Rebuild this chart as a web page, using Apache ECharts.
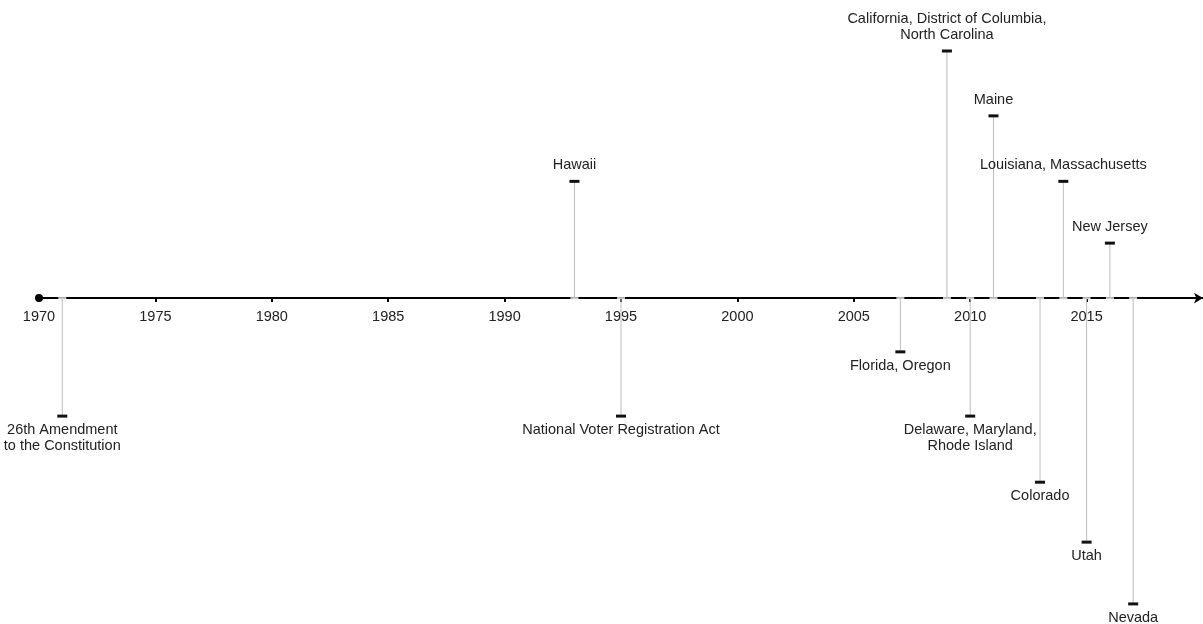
<!DOCTYPE html>
<html>
<head>
<meta charset="utf-8">
<script src="https://cdn.jsdelivr.net/npm/echarts@6/dist/echarts.min.js"></script>
<style>
  html, body { margin: 0; padding: 0; background: #fff; }
  #timeline { width: 1203px; height: 624px; }
</style>
</head>
<body>
<div id="timeline"></div>
<script>
// event years, stem heights (+ above the axis, - below) and labels
var years  = [1971, 1993, 1995, 2007, 2009, 2010, 2011, 2013, 2014, 2015, 2016, 2017];
var levels = [-1.91, 1.89, -1.91, -0.87, 4, -1.91, 2.95, -2.98, 1.89, -3.95, 0.89, -4.95];
var labels = [
    '26th Amendment\nto the Constitution',
    'Hawaii',
    'National Voter Registration Act',
    'Florida, Oregon',
    'California, District of Columbia,\nNorth Carolina',
    'Delaware, Maryland,\nRhode Island',
    'Maine',
    'Colorado',
    'Louisiana, Massachusetts',
    'Utah',
    'New Jersey',
    'Nevada'
];

var data = [];
for (var i = 0; i < years.length; i++) {
    data.push([years[i], levels[i], labels[i]]);
}

var FONT = '"Liberation Sans", Arial, Helvetica, sans-serif';
var GRID_TOP = 51, GRID_BOTTOM = 17;
var Y_MIN = -5, Y_MAX = 4;
// push the x axis up from the grid bottom to where y = 0 sits
var zeroOffset = -(624 - GRID_TOP - GRID_BOTTOM) * (0 - Y_MIN) / (Y_MAX - Y_MIN);

function renderStem(params, api) {
    var base = api.coord([api.value(0), 0]);
    var end = api.coord([api.value(0), api.value(1)]);
    var up = api.value(1) > 0;
    return {
        type: 'group',
        children: [
            {
                type: 'line',
                shape: { x1: base[0], y1: base[1], x2: end[0], y2: end[1] },
                style: { stroke: '#bdbdbd', lineWidth: 1 }
            },
            {
                type: 'rect',
                shape: { x: base[0] - 4, y: base[1] - 1, width: 8, height: 2 },
                style: { fill: '#c8c8c8' }
            },
            {
                type: 'rect',
                shape: { x: end[0] - 5, y: end[1] - 1.5, width: 10, height: 3 },
                style: { fill: '#111' }
            },
            {
                type: 'text',
                x: end[0],
                y: up ? end[1] - 8 : end[1] + 6,
                style: {
                    text: api.value(2),
                    fill: '#222',
                    font: '14.5px ' + FONT,
                    lineHeight: 16,
                    align: 'center',
                    verticalAlign: up ? 'bottom' : 'top'
                }
            }
        ]
    };
}

var chart = echarts.init(document.getElementById('timeline'));
chart.setOption({
    animation: false,
    backgroundColor: '#fff',
    grid: { left: 39, right: 0, top: GRID_TOP, bottom: GRID_BOTTOM, outerBoundsMode: 'none', containLabel: false },
    xAxis: {
        type: 'value',
        min: 1970,
        max: 2020,
        interval: 5,
        position: 'bottom',
        offset: zeroOffset,
        splitLine: { show: false },
        axisLine: {
            onZero: false,
            symbol: ['circle', 'arrow'],
            symbolSize: [8, 9],
            lineStyle: { color: '#000', width: 2 }
        },
        axisTick: { show: true, length: 4, lineStyle: { color: '#000', width: 2 } },
        axisLabel: {
            showMaxLabel: false,
            margin: 11,
            color: '#222',
            fontSize: 14.5,
            fontFamily: FONT,
            formatter: function (v) { return String(v); }
        }
    },
    yAxis: {
        type: 'value',
        min: Y_MIN,
        max: Y_MAX,
        show: false
    },
    series: [{
        type: 'custom',
        renderItem: renderStem,
        clip: false,
        z: 3,
        data: data
    }]
});
</script>
</body>
</html>
